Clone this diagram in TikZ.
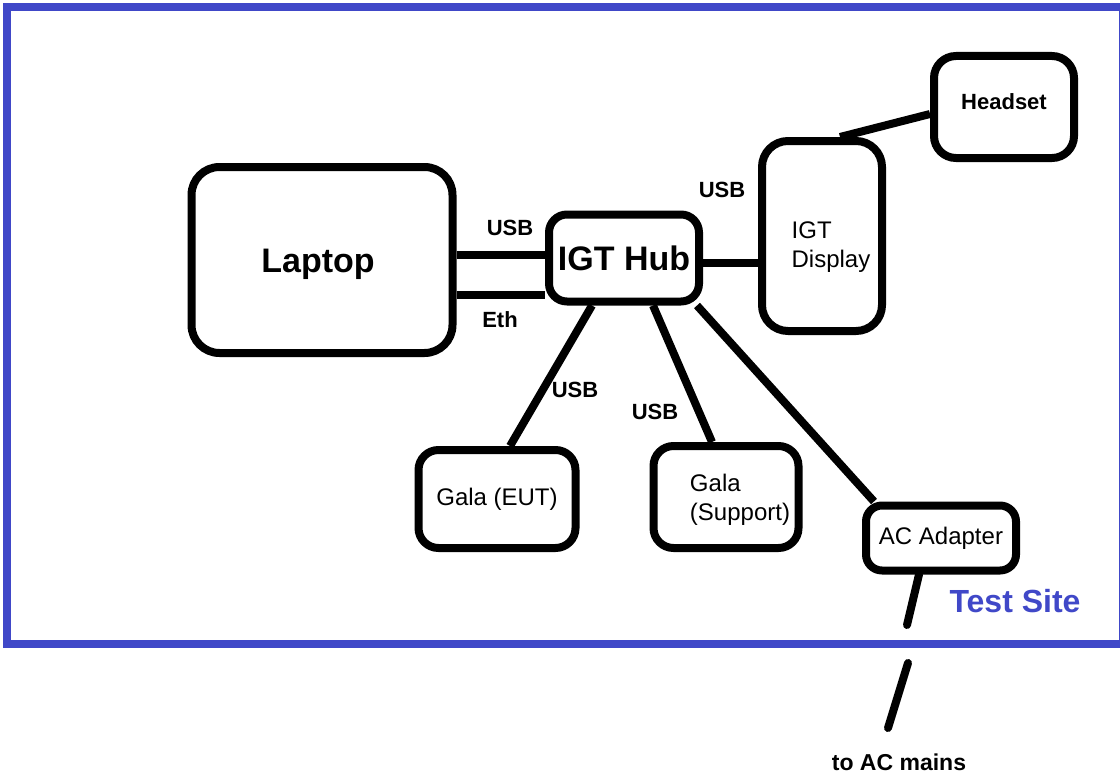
\documentclass[tikz,border=0pt]{standalone}
\usepackage{fontspec}
\setmainfont{Liberation Sans}
\usetikzlibrary{positioning}
\definecolor{siteblue}{RGB}{64,72,200}

\tikzset{
  box/.style={draw=black, line width=8pt, rounded corners=20pt, inner sep=0pt, align=left,
    font=\fontsize{24}{29}\selectfont},
  wire/.style={line width=8pt, black},
  lbl/.style={inner sep=0pt, font=\bfseries\fontsize{22}{25}\selectfont},
  boxtext/.style={inner sep=0pt, align=left, font=\fontsize{24}{29}\selectfont},
}

\begin{document}
\begin{tikzpicture}[x=1pt,y=-1pt]
\useasboundingbox (0,0) rectangle (1120,776);
% test site frame
\draw[siteblue, line width=8pt] (7,7) rectangle (1123,644);
\node[inner sep=0pt, text=siteblue, font=\bfseries\fontsize{32}{36}\selectfont] (site) at (1015,601) {Test Site};

% devices
\node[box, rounded corners=28pt, minimum width=261pt, minimum height=186pt,
  label={[inner sep=0pt, font=\bfseries\fontsize{34}{38}\selectfont, xshift=-4pt, yshift=-4pt]center:Laptop}] (laptop) at (322,260) {};
\node[box, rounded corners=18pt, minimum width=150pt, minimum height=87pt,
  font=\bfseries\fontsize{34}{38}\selectfont] (hub) at (624,258) {IGT Hub};
\node[box, rounded corners=26pt, minimum width=120pt, minimum height=190pt,
  label={[boxtext, xshift=9pt, yshift=-11pt]center:IGT\\Display}] (disp) at (822,236) {};
\node[box, rounded corners=22pt, minimum width=140pt, minimum height=102pt,
  label={[lbl, yshift=5pt]center:Headset}] (head) at (1004,107) {};
\node[box, minimum width=157pt, minimum height=98pt] (eut) at (497,499) {Gala (EUT)};
\node[box, minimum width=145pt, minimum height=102pt,
  label={[boxtext, xshift=14pt, yshift=-3pt]center:Gala\\(Support)}] (supp) at (726,497) {};
\node[box, rounded corners=16pt, minimum width=150pt, minimum height=65pt] (ac) at (941,538) {AC Adapter};

% cables
\draw[wire] ([yshift=5pt]laptop.east) -- ([yshift=5pt]laptop.east -| hub.west);
\draw[wire] ([yshift=-35pt]laptop.east) -- ([yshift=-35pt]laptop.east -| hub.west);
\draw[wire] ([yshift=-5pt]hub.east) -- ([yshift=-5pt]hub.east -| disp.west);
\draw[wire] ([xshift=18pt]disp.north) -- ([yshift=-7pt]head.west);
\draw[wire] ([xshift=-32pt]hub.south) -- ([xshift=13pt]eut.north);
\draw[wire] ([xshift=29pt]hub.south) -- ([xshift=-14pt]supp.north);
\draw[wire] ([xshift=-6pt]hub.south east) -- ([xshift=12pt]ac.north west);
\coordinate (mainsA) at (907,625);
\coordinate (mainsB) at (908,663);
\coordinate (mainsC) at (888,728);
\draw[wire, line cap=round] ([xshift=-22pt]ac.south) -- (mainsA);
\draw[wire, line cap=round] (mainsB) -- (mainsC);

% cable labels
\node[lbl] (usbL) at (510,228) {USB};
\node[lbl] (eth) at (500,320) {Eth};
\node[lbl] (usbD) at (722,190) {USB};
\node[lbl] (usbE) at (575,390) {USB};
\node[lbl] (usbS) at (655,412) {USB};
\node[lbl, font=\bfseries\fontsize{23}{26}\selectfont] (mains) at (899,762) {to AC mains};
\end{tikzpicture}
\end{document}
